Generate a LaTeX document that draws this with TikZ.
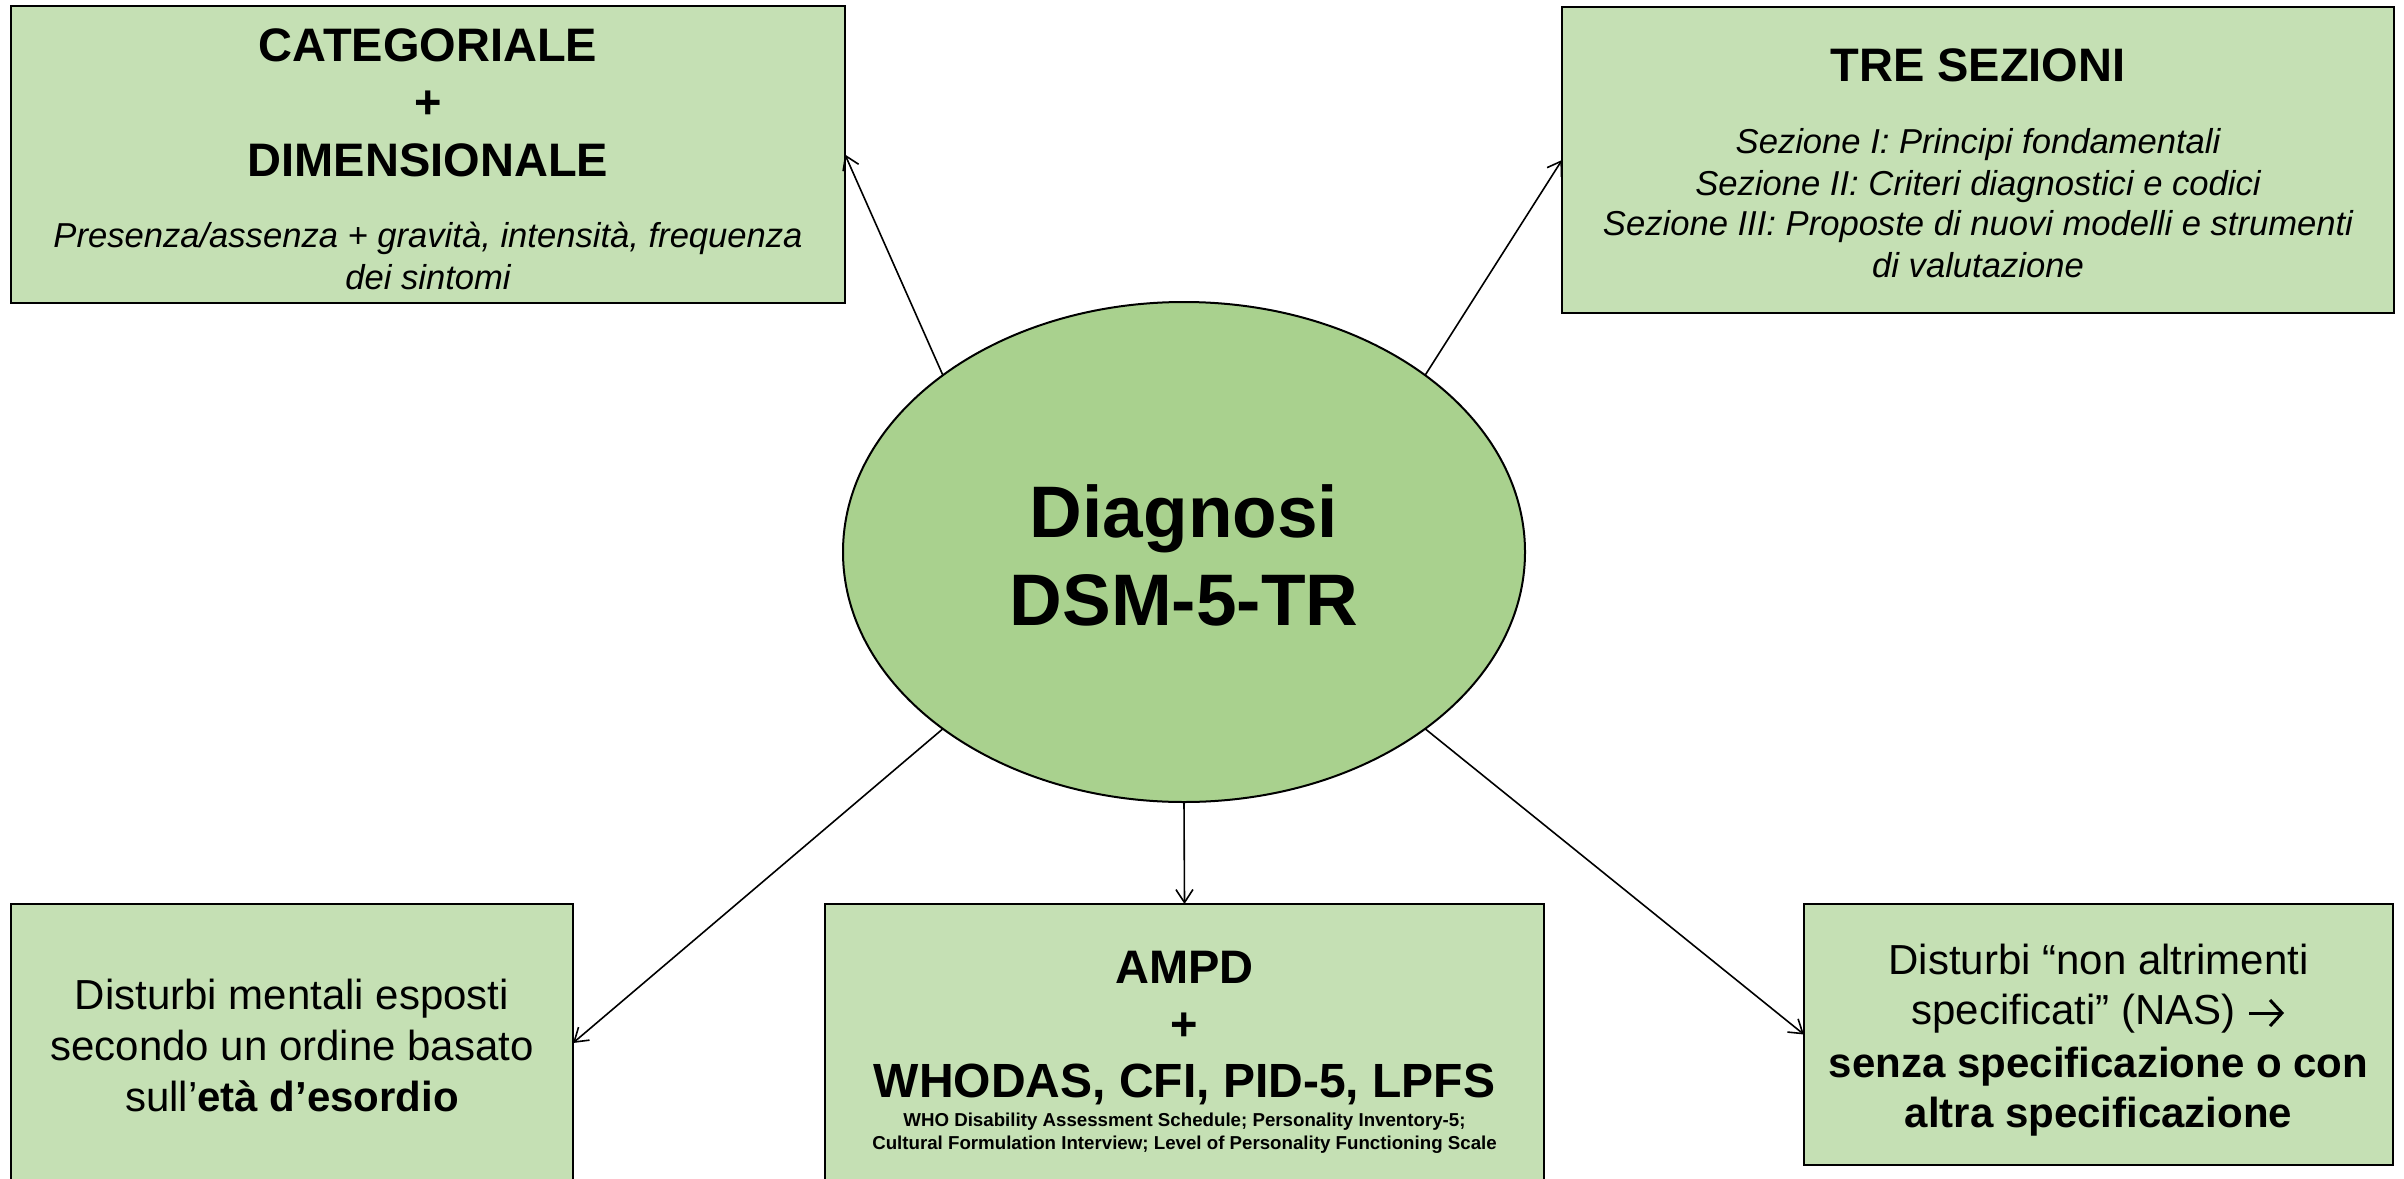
\documentclass[tikz,border=0pt]{standalone}
\usepackage{fontspec}
\setmainfont{Liberation Sans}
\usetikzlibrary{shapes.geometric,arrows.meta}
\definecolor{boxgreen}{HTML}{C5E0B4}
\definecolor{hubgreen}{HTML}{A9D18E}
% open-headed arrow used inside running text
\newcommand{\textarrow}{\tikz[baseline=0pt]\draw[line width=3pt,
  -{Straight Barb[length=12pt,width=26pt]}] (0pt,11pt) -- (35pt,11pt);}
\begin{document}
\begin{tikzpicture}[x=1pt,y=-1pt,
  panel/.style={draw=black, line width=2pt, fill=boxgreen, rectangle,
    inner sep=0pt, outer sep=0pt},
  hubshape/.style={draw=black, line width=2pt, fill=hubgreen, ellipse,
    inner sep=0pt, outer sep=0pt, minimum width=682pt, minimum height=500pt},
  link/.style={line width=1.6pt, -{Straight Barb[length=13pt,width=17pt]}},
  txt/.style={anchor=base, inner sep=0pt, outer sep=0pt},
  hdtext/.style={txt, font=\fontsize{47}{56}\selectfont\bfseries},
  subtext/.style={txt, font=\fontsize{34.6}{42}\selectfont\itshape},
  bodytext/.style={txt, font=\fontsize{42}{51}\selectfont},
  smalltext/.style={txt, font=\fontsize{18.7}{23}\selectfont\bfseries},
  hubtext/.style={txt, font=\fontsize{73}{88}\selectfont\bfseries}]
\useasboundingbox (0,0) rectangle (2404,1178);

% central ellipse
\node[hubshape] (dx) at (1184,552) {};
\node[hubtext] (dx-l1) at (1184,537) {Diagnosi};
\node[hubtext] (dx-l2) at (1184,625) {DSM-5-TR};

% top-left: categorial + dimensional
\node[panel, minimum width=834pt, minimum height=297pt] (cat) at (428,154.5) {};
\node[hdtext] (cat-l1) at (428,61) {CATEGORIALE};
\node[hdtext] (cat-l2) at (428,118.5) {+};
\node[hdtext] (cat-l3) at (428,176) {DIMENSIONALE};
\node[subtext] (cat-l4) at (428,247) {Presenza/assenza + gravità, intensità, frequenza};
\node[subtext] (cat-l5) at (428,289) {dei sintomi};

% top-right: three sections
\node[panel, minimum width=832pt, minimum height=306pt] (sez) at (1978,160) {};
\node[hdtext] (sez-l1) at (1978,81) {TRE SEZIONI};
\node[subtext] (sez-l2) at (1978,153) {Sezione I: Principi fondamentali};
\node[subtext] (sez-l3) at (1978,195) {Sezione II: Criteri diagnostici e codici};
\node[subtext] (sez-l4) at (1978,235) {Sezione III: Proposte di nuovi modelli e strumenti};
\node[subtext] (sez-l5) at (1978,277) {di valutazione};

% bottom-left: order by age of onset
\node[panel, minimum width=562pt, minimum height=278pt] (eta) at (292,1043) {};
\node[bodytext] (eta-l1) at (292,1009) {Disturbi mentali esposti};
\node[bodytext] (eta-l2) at (292,1060) {secondo un ordine basato};
\node[bodytext] (eta-l3) at (292,1111) {sull’\textbf{età d’esordio}};

% bottom-middle: AMPD and assessment tools
\node[panel, minimum width=719pt, minimum height=278pt] (ampd) at (1184.5,1043) {};
\node[hdtext] (ampd-l1) at (1184.5,983) {AMPD};
\node[hdtext] (ampd-l2) at (1184.5,1040) {+};
\node[hdtext, font=\fontsize{48}{57}\selectfont\bfseries] (ampd-l3) at (1184.5,1097) {WHODAS, CFI, PID-5, LPFS};
\node[smalltext] (ampd-l4) at (1184.5,1126) {WHO Disability Assessment Schedule; Personality Inventory-5;};
\node[smalltext] (ampd-l5) at (1184.5,1149) {Cultural Formulation Interview; Level of Personality Functioning Scale};

% bottom-right: NAS disorders
\node[panel, minimum width=589pt, minimum height=261pt] (nas) at (2098.5,1034.5) {};
\node[bodytext] (nas-l1) at (2098.5,974) {Disturbi “non altrimenti};
\node[bodytext] (nas-l2) at (2098.5,1024) {specificati” (NAS) \textarrow};
\node[bodytext, font=\fontsize{42}{51}\selectfont\bfseries] (nas-l3) at (2098.5,1077) {senza specificazione o con};
\node[bodytext, font=\fontsize{42}{51}\selectfont\bfseries] (nas-l4) at (2098.5,1127) {altra specificazione};

% connectors
\draw[link] (dx.north west) -- (cat.east);
\draw[link] (dx.north east) -- (sez.west);
\draw[link] (dx.south west) -- (eta.east);
\draw[link] (dx.south) -- (ampd.north);
\draw[link] (dx.south east) -- (nas.west);
\end{tikzpicture}
\end{document}
